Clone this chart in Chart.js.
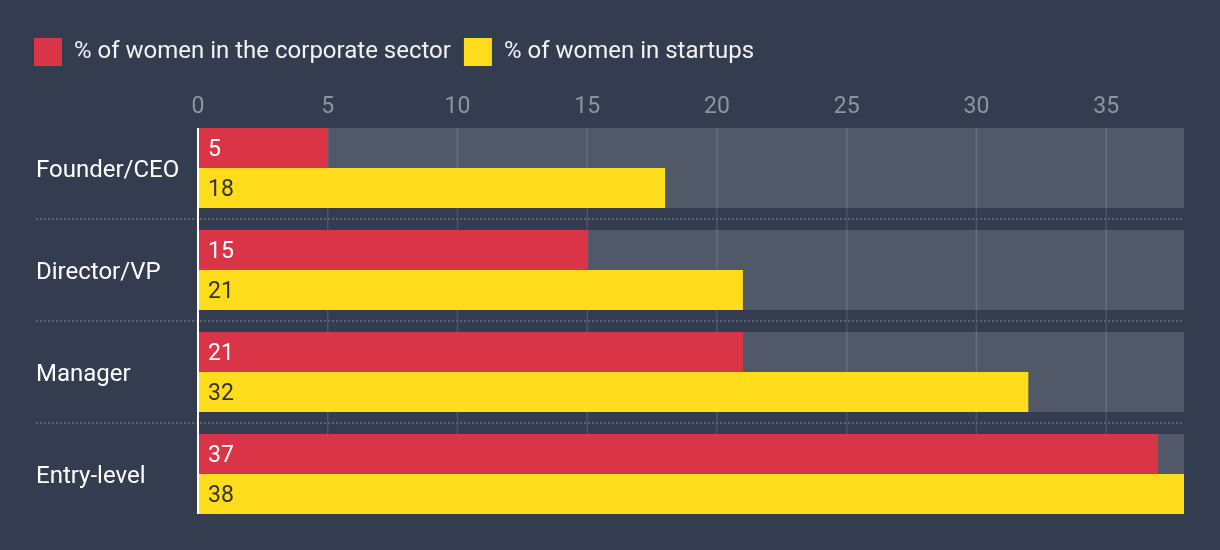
<!DOCTYPE html>
<html>
<head>
<meta charset="utf-8">
<script src="https://cdn.jsdelivr.net/npm/chart.js@4/dist/chart.umd.min.js"></script>
<style>
  html, body { margin: 0; padding: 0; background: #333d4f; }
  #wrap { width: 1220px; height: 550px; position: relative; }
</style>
</head>
<body>
<div id="wrap"><canvas id="c"></canvas></div>
<script>
// ---- data ----
const categories = ["Founder/CEO", "Director/VP", "Manager", "Entry-level"];
const corporateLabel = "% of women in the corporate sector";
const startupLabel = "% of women in startups";
const corporateValues = [5, 15, 21, 37];
const startupValues = [18, 21, 32, 38];
const axisMax = 38;
const trackValues = [38, 38, 38, 38];
const tickStep = 5;

const FONT = "Roboto, 'Noto Sans', sans-serif";
const RED = "#d93546";
const YELLOW = "#ffdd1c";
const CAT_PCT = 80 / 102;

const layoutPlugin = {
  id: "customLayout",
  afterLayout(chart) {
    const y = chart.scales.y;
    y.left = y.right - 162;
  },
  beforeDatasetsDraw(chart) {
    const ctx = chart.ctx;
    const x = chart.scales.x;
    const y = chart.scales.y;
    const track = chart.getDatasetMeta(2).data;
    if (!track.length) return;
    const top = track[0].y - track[0].height / 2;
    const bottom = track[track.length - 1].y + track[track.length - 1].height / 2;
    ctx.save();
    // vertical grid lines
    ctx.strokeStyle = "rgba(255,255,255,0.12)";
    ctx.lineWidth = 1.5;
    x.ticks.forEach(t => {
      if (t.value === 0) return;
      const px = x.getPixelForValue(t.value);
      ctx.beginPath();
      ctx.moveTo(px, top);
      ctx.lineTo(px, bottom);
      ctx.stroke();
    });
    // dotted separators between categories
    ctx.strokeStyle = "#5b6373";
    ctx.lineWidth = 2;
    ctx.setLineDash([2, 2]);
    for (let i = 0; i < track.length - 1; i++) {
      const b = track[i].y + track[i].height / 2;
      const t = track[i + 1].y - track[i + 1].height / 2;
      const py = Math.round((b + t) / 2);
      ctx.beginPath();
      ctx.moveTo(y.left, py);
      ctx.lineTo(chart.chartArea.right, py);
      ctx.stroke();
    }
    ctx.restore();
  },
  afterDatasetsDraw(chart) {
    const ctx = chart.ctx;
    const track = chart.getDatasetMeta(2).data;
    const top = track[0].y - track[0].height / 2;
    const bottom = track[track.length - 1].y + track[track.length - 1].height / 2;
    ctx.save();
    // data labels
    ctx.font = "23px " + FONT;
    ctx.textBaseline = "middle";
    ctx.textAlign = "left";
    [0, 1].forEach(di => {
      const meta = chart.getDatasetMeta(di);
      const vals = chart.data.datasets[di].data;
      ctx.fillStyle = di === 0 ? "#ffffff" : "#333333";
      meta.data.forEach((el, i) => {
        ctx.fillText(String(vals[i]), el.base + 10, el.y + 2);
      });
    });
    // white axis line
    const x0 = chart.scales.x.getPixelForValue(0);
    ctx.strokeStyle = "#ffffff";
    ctx.lineWidth = 2;
    ctx.beginPath();
    ctx.moveTo(x0, top);
    ctx.lineTo(x0, bottom);
    ctx.stroke();
    ctx.restore();
  }
};

new Chart(document.getElementById("c"), {
  type: "bar",
  data: {
    labels: categories,
    datasets: [
      {
        label: corporateLabel,
        data: corporateValues,
        backgroundColor: RED,
        borderWidth: 0,
        categoryPercentage: CAT_PCT,
        barPercentage: 1,
        order: 0
      },
      {
        label: startupLabel,
        data: startupValues,
        backgroundColor: YELLOW,
        borderWidth: 0,
        categoryPercentage: CAT_PCT,
        barPercentage: 1,
        order: 0
      },
      {
        label: "track",
        data: trackValues,
        grouped: false,
        backgroundColor: "rgba(255,255,255,0.15)",
        borderWidth: 0,
        categoryPercentage: CAT_PCT,
        barPercentage: 1,
        order: 5
      }
    ]
  },
  options: {
    indexAxis: "y",
    responsive: true,
    maintainAspectRatio: false,
    animation: false,
    layout: { padding: { top: 25, left: 21, right: 36, bottom: 25 } },
    plugins: {
      legend: {
        display: true,
        position: "top",
        align: "start",
        labels: {
          boxWidth: 28,
          boxHeight: 28,
          padding: 13,
          color: "#f2f2f2",
          font: { family: FONT, size: 24 },
          filter: item => item.datasetIndex !== 2
        }
      },
      tooltip: { enabled: false }
    },
    scales: {
      x: {
        position: "top",
        min: 0,
        max: axisMax,
        grid: { display: false, drawTicks: false },
        border: { display: false },
        ticks: {
          stepSize: tickStep,
          includeBounds: false,
          color: "#8e949f",
          padding: -4,
          font: { family: FONT, size: 23 }
        },
        afterFit(s) { s.height = 41; }
      },
      y: {
        position: "left",
        offset: true,
        grid: { display: false, drawTicks: false },
        border: { display: false },
        ticks: {
          crossAlign: "far",
          labelOffset: 3,
          color: "#ffffff",
          font: { family: FONT, size: 24 }
        },
        afterFit(s) { s.width = 177; }
      }
    }
  },
  plugins: [layoutPlugin]
});
</script>
</body>
</html>
